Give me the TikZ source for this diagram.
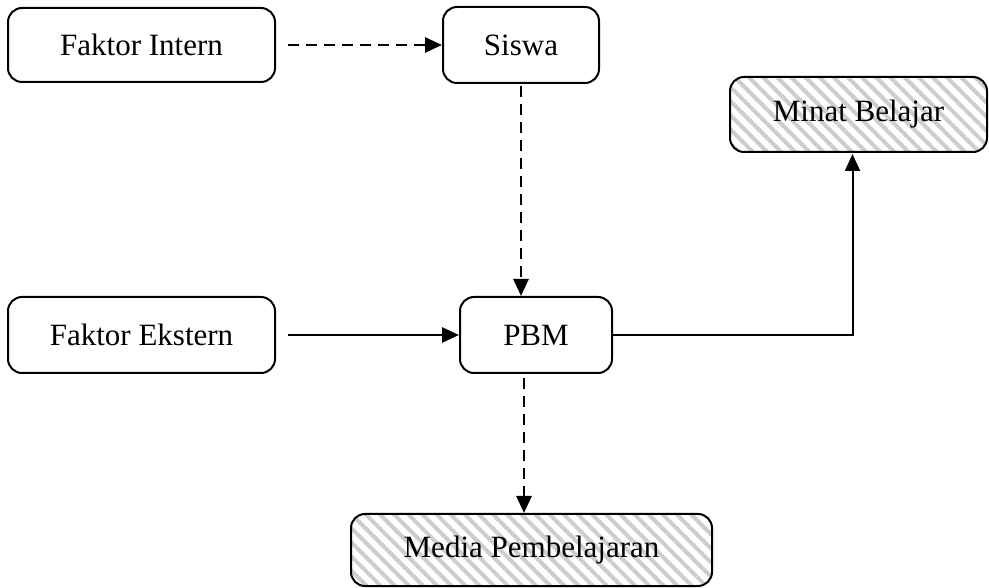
\documentclass[tikz,border=0pt]{standalone}
\usepackage{fontspec}
\setmainfont{Liberation Serif}
\usetikzlibrary{arrows.meta,patterns.meta}

\begin{document}
\begin{tikzpicture}[x=1pt,y=1pt,
  box/.style={draw=drawColor,line width=2pt,rounded corners=14pt,inner sep=0pt,
    font=\fontsize{31}{37}\selectfont},
  hatched/.style={box,pattern={Lines[angle=-45,distance=10pt,line width=4pt]},pattern color=hatchColor},
  link/.style={draw=drawColor,line width=2.8pt,-{Triangle[length=17pt,width=15pt]}},
  dashlink/.style={link,dash pattern=on 11pt off 7pt}]
\definecolor{drawColor}{RGB}{0,0,0}
\definecolor{hatchColor}{RGB}{205,205,205}
\path[use as bounding box] (0,0) rectangle (989,587);

\node[box,minimum width=267pt,minimum height=74pt] (intern) at (141.5,542) {Faktor Intern};
\node[box,minimum width=156pt,minimum height=76pt] (siswa) at (521,542) {Siswa};
\node[hatched,minimum width=257pt,minimum height=75pt] (minat) at (858.5,472.5) {Minat Belajar};
\node[box,minimum width=267pt,minimum height=76pt] (ekstern) at (141.5,252) {Faktor Ekstern};
\node[box,minimum width=152pt,minimum height=76pt] (pbm) at (536,252) {PBM};
\node[hatched,minimum width=361pt,minimum height=72pt] (media) at (531.5,37) {Media Pembelajaran};

\path[dashlink,shorten <=12pt] (intern.east) -- (siswa.west);
\path[dashlink,shorten <=2pt] (siswa.south) -- (siswa.south |- pbm.north);
\path[link,shorten <=12pt] (ekstern.east) -- (pbm.west);
\path[link,line width=2pt] (pbm.east) -| ([xshift=-6pt]minat.south);
\path[dashlink,shorten <=4pt] ([xshift=-12pt]pbm.south) -- ([xshift=-12pt]pbm.south |- media.north);
\end{tikzpicture}
\end{document}
